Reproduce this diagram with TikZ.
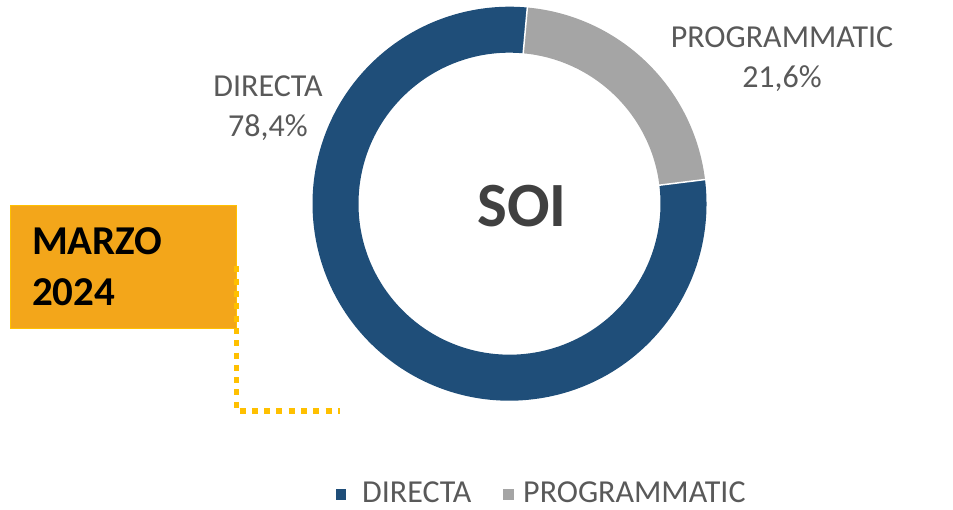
\documentclass[tikz,border=0pt]{standalone}
\usepackage{fontspec}
\setmainfont{Carlito}
\usetikzlibrary{calc}
\definecolor{directa}{RGB}{31,78,121}
\definecolor{programmatic}{RGB}{165,165,165}
\definecolor{boxfill}{RGB}{243,166,26}
\definecolor{gold}{RGB}{255,192,0}
\definecolor{labelgrey}{RGB}{89,89,89}
\definecolor{titlegrey}{RGB}{64,64,64}
\begin{document}
\begin{tikzpicture}[x=1pt,y=1pt,
    slicelabel/.style={text=labelgrey,font=\fontsize{32}{40}\selectfont,align=center,inner sep=0pt},
    legendkey/.style={minimum size=10.5pt,inner sep=0pt},
    legendtext/.style={text=labelgrey,font=\fontsize{32}{36}\selectfont,inner sep=0pt,anchor=base west}]
    \useasboundingbox (0,0) rectangle (953,510);
    \coordinate (c) at (509.5,306.3);

    % donut
    \fill[programmatic] ($(c)+(84.8:197)$) arc[start angle=84.8,end angle=7.04,radius=197]
        -- ($(c)+(7.04:151)$) arc[start angle=7.04,end angle=84.8,radius=151] -- cycle;
    \fill[directa] ($(c)+(7.04:197)$) arc[start angle=7.04,end angle=-275.2,radius=197]
        -- ($(c)+(-275.2:151)$) arc[start angle=-275.2,end angle=7.04,radius=151] -- cycle;
    \draw[white,line width=1.5pt] ($(c)+(84.8:150)$) -- ($(c)+(84.8:198)$);
    \draw[white,line width=1.5pt] ($(c)+(7.04:150)$) -- ($(c)+(7.04:198)$);

    \node[text=titlegrey,font=\bfseries\fontsize{63}{70}\selectfont,anchor=base,inner sep=0pt] (soi) at (522,283) {SOI};

    \node[slicelabel,anchor=base] (dirlab) at (268,373) {DIRECTA\\78,4\%};
    \node[slicelabel,anchor=base] (proglab) at (782,422) {PROGRAMMATIC\\21,6\%};

    % date box
    \node[fill=boxfill,draw=gold,line width=0.8pt,minimum width=226pt,minimum height=123pt,
        text width=182pt,inner xsep=22pt,align=left,font=\bfseries\fontsize{41}{51}\selectfont]
        (datebox) at (123,243.5) {MARZO\\2024};
    \coordinate (dotend) at (340,99);
    \draw[gold,line width=5.5pt,dash pattern=on 6pt off 6.3pt] (datebox.east) |- (dotend);

    % legend
    \node[legendkey,fill=directa] (keydir) at (341,15.5) {};
    \node[legendtext] (legdir) at (362,7) {DIRECTA};
    \node[legendkey,fill=programmatic] (keyprog) at (508.5,15.5) {};
    \node[legendtext] (legprog) at (523,7) {PROGRAMMATIC};
\end{tikzpicture}
\end{document}
